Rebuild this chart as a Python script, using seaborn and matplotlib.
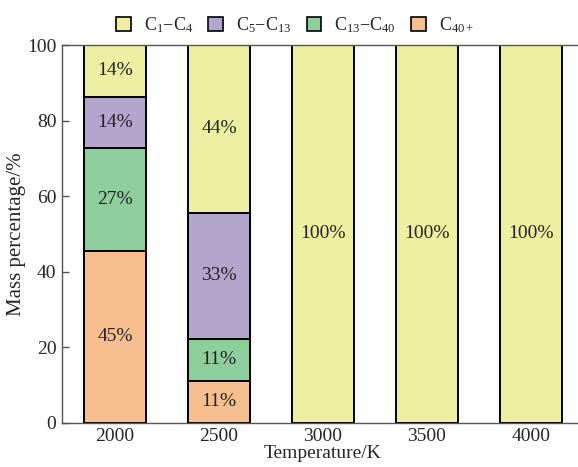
import numpy as np
import pandas as pd
import matplotlib
matplotlib.use("Agg")
import matplotlib.pyplot as plt
import seaborn as sns
from matplotlib.patches import Patch

temperatures = ["2000", "2500", "3000", "3500", "4000"]
series_names = [r"C$_1$$-$C$_4$", r"C$_5$$-$C$_{13}$", r"C$_{13}$$-$C$_{40}$", r"C$_{40+}$"]
c1_c4 = [13.64, 44.44, 100, 100, 100]
c5_c13 = [13.64, 33.33, 0, 0, 0]
c13_c40 = [27.27, 11.11, 0, 0, 0]
c40p = [45.45, 11.11, 0, 0, 0]
colors = ["#EEEEA0", "#B2A6CC", "#8ECE9C", "#F7BF8F"]

sns.set_theme(style="white")
plt.rcParams["font.family"] = ["Liberation Serif", "DejaVu Serif"]
plt.rcParams["mathtext.fontset"] = "custom"
plt.rcParams["mathtext.rm"] = "Liberation Serif"
plt.rcParams["mathtext.it"] = "Liberation Serif"

fig = plt.figure(figsize=(5.78, 4.67), dpi=100)
ax = fig.add_axes([62 / 578, 1 - 422.7 / 467, (584 - 62) / 578, (422.7 - 45) / 467])

bottom_up = [c40p, c13_c40, c5_c13, c1_c4]
cum = np.cumsum(np.array(bottom_up), axis=0)
layer_colors = [colors[3], colors[2], colors[1], colors[0]]
for i in [3, 2, 1, 0]:
    df = pd.DataFrame({"T": temperatures, "v": cum[i]})
    sns.barplot(data=df, x="T", y="v", color=layer_colors[i], saturation=1,
                width=0.6, edgecolor="black", linewidth=1.4, ax=ax, errorbar=None)

arr = np.array(bottom_up)
for j in range(len(temperatures)):
    base = 0
    for k in range(4):
        v = arr[k, j]
        if v > 0:
            ax.text(j, base + v / 2, f"{round(v):d}%", ha="center", va="center",
                    fontsize=14, color="#222222")
        base += v

ax.set_xlim(-0.51, 4.51)
ax.set_ylim(0, 100)
ax.set_yticks([0, 20, 40, 60, 80, 100])
ax.tick_params(axis="y", direction="in", length=5, width=1, color="#555555",
               labelsize=14, pad=4, left=True)
ax.tick_params(axis="x", length=0, labelsize=14, pad=4)
for s in ["left", "bottom", "top"]:
    ax.spines[s].set_color("#555555")
    ax.spines[s].set_linewidth(1.0)
ax.spines["right"].set_visible(False)
ax.set_xlabel("Temperature/K", fontsize=14, labelpad=0)
ax.set_ylabel("Mass percentage/%", fontsize=15, labelpad=1)

handles = [Patch(facecolor=c, edgecolor="black", linewidth=1.2) for c in colors]
fig.legend(handles, series_names, loc="center", bbox_to_anchor=(295 / 578, 1 - 25 / 467),
           ncol=4, frameon=False, fontsize=13, handlelength=0.8, handleheight=0.85,
           columnspacing=0.85, handletextpad=0.72, borderpad=0, borderaxespad=0)

fig.savefig("out.png", dpi=100)
